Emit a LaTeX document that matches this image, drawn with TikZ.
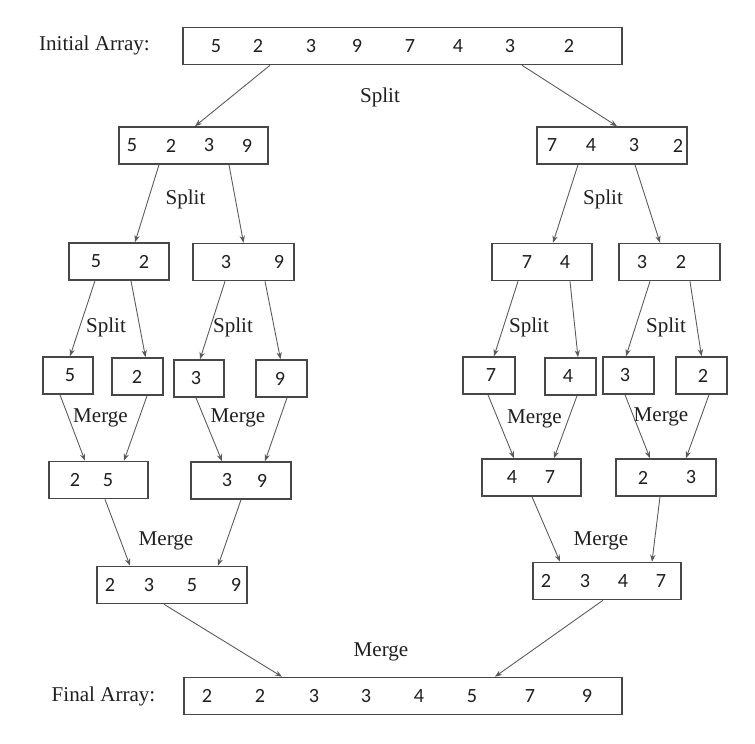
\documentclass[tikz,border=0pt]{standalone}
\usepackage{fontspec}
\setmainfont{Liberation Serif}
\newfontfamily\numfont{Carlito}
\usetikzlibrary{calc,arrows.meta}

% ---- one array: name, centre x, centre y, width, list of x/value
\newcommand{\arraybox}[5]{%
	\node[box, minimum width=#4*0.02cm] (#1) at (#2,#3) {};
	\foreach \xx/\vv [count=\k] in {#5} { \node[num] (#1-\k) at (\xx,#3) {\vv}; }
}

\begin{document}
\begin{tikzpicture}[x=0.02cm, y=-0.02cm,
	box/.style={draw=black!72, line width=0.9pt, minimum height=0.74cm, inner sep=0pt},
	num/.style={text=black!88, font=\numfont\fontsize{11.5}{13}\selectfont, inner sep=0pt},
	lbl/.style={text=black!88, font=\fontsize{12}{14}\selectfont, inner sep=0pt},
	link/.style={draw=black!65, line width=0.5pt, -{Stealth[length=4pt,width=3pt]}}]

	% ---- page

	\useasboundingbox (0,0) rectangle (755,744);

	% ---- arrays

	\arraybox{init}{402.5}{46}{439}{216/5,258/2,311/3,357/9,410/7,458/4,510/3,569/2}

	\arraybox{la}{193.5}{145.5}{149}{132/5,171/2,209/3,247/9}
	\arraybox{ra}{612}{145.5}{150}{552/7,591/4,634/3,678/2}

	\arraybox{laa}{119}{261.5}{100}{96/5,144/2}
	\arraybox{lab}{243.5}{262}{101}{226/3,279/9}
	\arraybox{raa}{542}{262}{100}{527/7,565/4}
	\arraybox{rab}{669.5}{262}{101}{642/3,681/2}

	\arraybox{s5}{68}{375.5}{50}{70/5}
	\arraybox{s2}{137.5}{376.5}{51}{137/2}
	\arraybox{s3}{199}{378.5}{50}{196/3}
	\arraybox{s9}{281.5}{378.5}{51}{280/9}
	\arraybox{s7}{489}{375.5}{52}{491/7}
	\arraybox{s4}{570.5}{376.5}{51}{568/4}
	\arraybox{t3}{628.5}{375.5}{51}{625/3}
	\arraybox{t2}{701.5}{375.5}{51}{703/2}

	\arraybox{m25}{98.5}{480}{99}{75/2,108/5}
	\arraybox{m39}{241}{480.5}{100}{227/3,262/9}
	\arraybox{m47}{531.5}{477.5}{99}{512/4,550/7}
	\arraybox{m23}{666}{477.5}{100}{643/2,691/3}

	\arraybox{lm}{172}{585}{150}{110/2,149/3,192/5,236/9}
	\arraybox{rm}{607}{581}{148}{546/2,585/3,623/4,661/7}

	\arraybox{final}{403}{696}{438}{207/2,260/2,314/3,366/3,419/4,472/5,530/7,587/9}

	% ---- labels

	\node[lbl] (initlbl) at (94.5,45) {Initial Array:};
	\node[lbl] (finallbl) at (103.5,696) {Final Array:};

	\node[lbl] (split1) at (380,97) {Split};
	\node[lbl] (split2) at (185.5,199) {Split};
	\node[lbl] (split3) at (603,199) {Split};
	\node[lbl] (split4) at (106,327) {Split};
	\node[lbl] (split5) at (233,327) {Split};
	\node[lbl] (split6) at (529,327) {Split};
	\node[lbl] (split7) at (666,327) {Split};

	\node[lbl] (merge1) at (100.5,418) {Merge};
	\node[lbl] (merge2) at (238,418) {Merge};
	\node[lbl] (merge3) at (534.5,419) {Merge};
	\node[lbl] (merge4) at (661,417) {Merge};
	\node[lbl] (merge5) at (166,541) {Merge};
	\node[lbl] (merge6) at (601,541) {Merge};
	\node[lbl] (merge7) at (381,652) {Merge};

	% ---- split arrows: from/to/start offset/end offset

	\foreach \a/\b/\p/\q in {init/la/-132.5/1.5, init/ra/119.5/5,
		la/laa/-34.5/16, la/lab/35.5/0, ra/raa/-34/11, ra/rab/23/-9.5,
		laa/s5/-24/2, laa/s2/12/8, lab/s3/-18.5/1, lab/s9/21.5/-1,
		raa/s7/-24/5, raa/s4/28/7.5, rab/t3/-19.5/-2.5, rab/t2/20.5/0} {
		\draw[link] ($(\a.south)+(\p,0)$) -- ($(\b.north)+(\q,0)$);
	}

	% ---- merge arrows

	\foreach \a/\b/\p/\q in {s5/m25/-8/-13.5, s2/m25/9.5/25.5,
		s3/m39/-3/-19, s9/m39/5.5/24, s7/m47/-1/-17.5, s4/m47/6.5/22.5,
		t3/m23/-3.5/-16, t2/m23/7.5/20,
		m25/lm/6.5/-42, m39/lm/0/46, m47/rm/0.5/-47, m23/rm/-6/45,
		lm/final/-8/-121, rm/final/-4/92} {
		\draw[link] ($(\a.south)+(\p,0)$) -- ($(\b.north)+(\q,0)$);
	}

\end{tikzpicture}
\end{document}
